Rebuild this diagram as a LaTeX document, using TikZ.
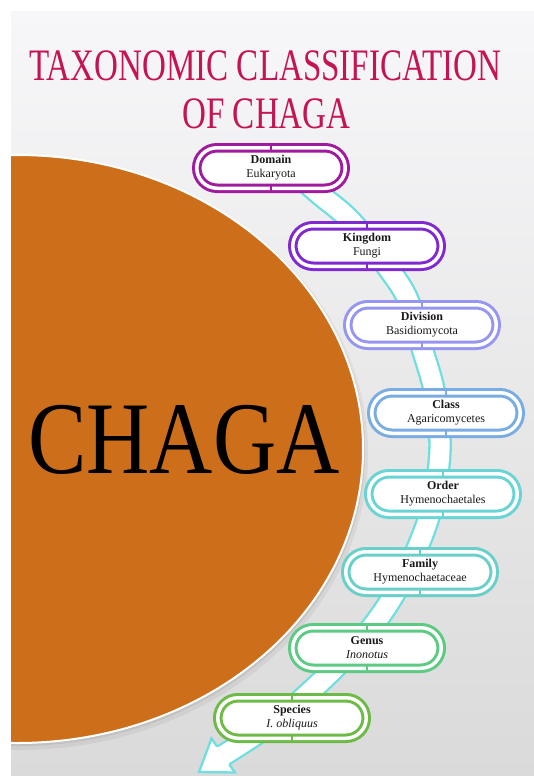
\documentclass[tikz,border=0pt]{standalone}
\usepackage{fontspec}
\setmainfont{Liberation Serif}
\definecolor{bgtop}{RGB}{247,247,249}
\definecolor{bgbot}{RGB}{218,218,218}
\definecolor{chagaorange}{RGB}{204,110,26}
\definecolor{titlered}{RGB}{196,20,82}
\definecolor{bandcyan}{RGB}{112,222,224}
\definecolor{cDomain}{RGB}{160,26,158}
\definecolor{cKingdom}{RGB}{128,40,210}
\definecolor{cDivision}{RGB}{150,150,240}
\definecolor{cClass}{RGB}{120,172,226}
\definecolor{cOrder}{RGB}{104,212,212}
\definecolor{cFamily}{RGB}{104,208,200}
\definecolor{cGenus}{RGB}{92,202,130}
\definecolor{cSpecies}{RGB}{110,186,70}
\newcommand\mypill[5]{%
  \node[pill=#2] (#1) at (#3) {\textbf{#4}\\#5};
  \draw[#2, line width=1.3pt] ([yshift=3pt]#1.north) -- ([yshift=-3pt]#1.north)
        ([yshift=3pt]#1.south) -- ([yshift=-3pt]#1.south);
}
\begin{document}
\begin{tikzpicture}[x=1pt,y=-1pt,
  pill/.style={draw=#1, line width=3pt, double=white, double distance=3.5pt,
    fill=white, rounded corners=20.25pt, minimum width=148.5pt,
    minimum height=40.5pt, inner sep=0pt, outer sep=0pt, align=center,
    font=\fontsize{12}{14}\selectfont, text=black!90},
  band/.style={bandcyan, line width=2.3pt, double=white, double distance=19pt},
  bandhead/.style={bandcyan, line width=2.3pt, line join=miter}
]
\useasboundingbox (0,0) rectangle (534,776);
\fill[white] (0,0) rectangle (534,776);
\shade[top color=bgtop, bottom color=bgbot] (11,12) rectangle (534,776);

% orange ellipse
\begin{scope}
  \clip (11,12) rectangle (534,776);
  \fill[black, opacity=0.05] (19,453) ellipse [x radius=349pt, y radius=297pt];
  \fill[black, opacity=0.07] (18,451) ellipse [x radius=347pt, y radius=295pt];
  \draw[white, line width=2pt, fill=chagaorange] (17,449) ellipse [x radius=346pt, y radius=294pt];
\end{scope}
\node[anchor=base, inner sep=0pt, font=\fontsize{103}{103}\selectfont, text=black] (chaga) at (184,473) {\scalebox{0.85}[1]{CHAGA}};

% title
\node[anchor=base, inner sep=0pt, font=\fontsize{45}{47}\selectfont, text=titlered] (title1) at (265.5,81) {\scalebox{0.735}[1]{TAXONOMIC CLASSIFICATION}};
\node[anchor=base, inner sep=0pt, font=\fontsize{45}{47}\selectfont, text=titlered] (title2) at (266.5,128) {\scalebox{0.735}[1]{OF CHAGA}};

% band arrow
\coordinate (bstart) at (290,168);
\coordinate (bend) at (223.2,755.5);
\coordinate (tip) at (199,772);
\coordinate (ba) at (235,772.5);
\coordinate (bb) at (211.5,738.5);
\coordinate (ia) at (229.3,764.5);
\coordinate (ib) at (217.1,746.5);
\draw[band] plot[smooth, tension=0.55] coordinates {(bstart) (318,193) (351,221) (388,268) (408,300) (422,348) (434,390) (440,440) (437,480) (428,520) (412,560) (392,598) (368,632) (335,668) (281.3,716.6) (bend)};
\fill[white] (ba) -- (tip) -- (bb) -- cycle;
\draw[bandhead] (ia) -- (ba) -- (tip) -- (bb) -- (ib);

% pills
\mypill{domain}{cDomain}{271,168}{Domain}{Eukaryota}
\mypill{kingdom}{cKingdom}{367,246}{Kingdom}{Fungi}
\mypill{division}{cDivision}{422,325}{Division}{Basidiomycota}
\mypill{class}{cClass}{446,413}{Class}{Agaricomycetes}
\mypill{order}{cOrder}{443,494}{Order}{Hymenochaetales}
\mypill{family}{cFamily}{420,572}{Family}{Hymenochaetaceae}
\mypill{genus}{cGenus}{367,648}{Genus}{\textit{Inonotus}}
\mypill{species}{cSpecies}{292,718}{Species}{\textit{I. obliquus}}
\end{tikzpicture}
\end{document}
